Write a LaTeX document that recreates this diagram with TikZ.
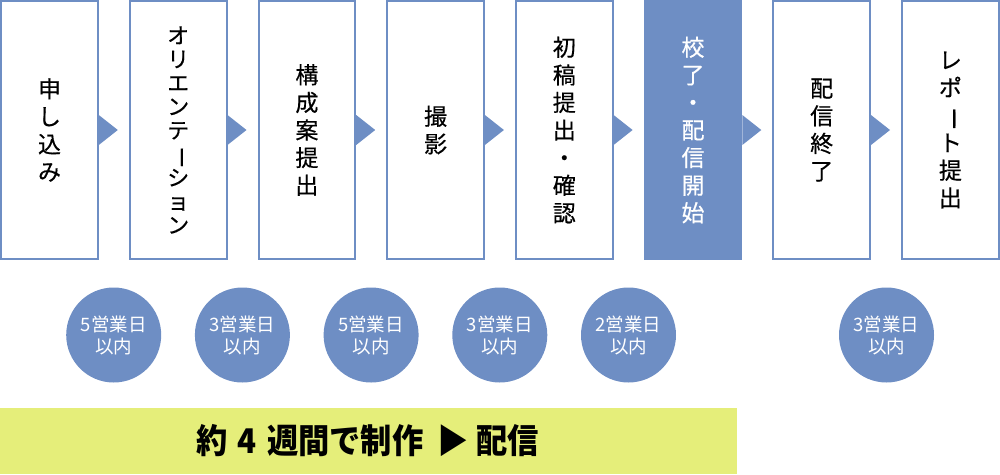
\documentclass[tikz,border=0pt]{standalone}
\usepackage{fontspec}
\usetikzlibrary{calc}
\newfontfamily\jp{Noto Sans CJK JP}
\newfontfamily\jpm[FakeBold=0.4]{Noto Sans CJK JP}
\newfontfamily\jpbar[FakeStretch=0.92]{Noto Sans CJK JP}
\definecolor{blu}{HTML}{6E8EC4}
\definecolor{limebar}{HTML}{E5EE7A}
\newcommand{\vbar}{\rotatebox[origin=c]{-90}{ー}}
\tikzset{
  stepbox/.style={draw=blu, line width=2pt, minimum width=96.6pt, minimum height=258pt,
    inner sep=0pt, align=center, font=\jpm\fontsize{23}{27.6}\selectfont},
  activebox/.style={stepbox, fill=blu, text=white},
  tri/.style={fill=blu},
  daycirc/.style={circle, fill=blu, minimum size=95pt, inner sep=0pt, text=white,
    align=center, font=\jp\fontsize{18.5}{22}\selectfont},
  bar/.style={fill=limebar, minimum width=738pt, minimum height=66pt, inner sep=0pt,
    font=\jpbar\bfseries\fontsize{34}{36}\selectfont}
}
\begin{document}
\begin{tikzpicture}[x=1pt,y=-1pt]
\useasboundingbox (0,0) rectangle (1000,474);
\node[stepbox] (b1) at (49.5,130) {申\\し\\込\\み};
\node[stepbox, font=\jpm\fontsize{22}{23.7}\selectfont] (b2) at (178.2,130) {オ\\リ\\エ\\ン\\テ\\\vbar\\シ\\ョ\\ン};
\node[stepbox] (b3) at (306.9,130) {構\\成\\案\\提\\出};
\node[stepbox] (b4) at (435.6,130) {撮\\影};
\node[stepbox] (b5) at (564.3,130) {初\\稿\\提\\出\\・\\確\\認};
\node[activebox] (b6) at (693,130) {校\\了\\・\\配\\信\\開\\始};
\node[stepbox] (b7) at (821.7,130) {配\\信\\終\\了};
\node[stepbox] (b8) at (950.4,130) {レ\\ポ\\\vbar\\ト\\提\\出};
\foreach \b in {b1,b2,b3,b4,b5,b6,b7}{
  \fill[tri] ($(\b.east)+(0,-15)$) -- ($(\b.east)+(19,0)$) -- ($(\b.east)+(0,15)$) -- cycle;
}
\node[daycirc] (c1) at (113.7,335) {5営業日\\以内};
\node[daycirc] (c2) at (242.4,335) {3営業日\\以内};
\node[daycirc] (c3) at (371.1,335) {5営業日\\以内};
\node[daycirc] (c4) at (499.8,335) {3営業日\\以内};
\node[daycirc] (c5) at (628.5,335) {2営業日\\以内};
\node[daycirc] (c6) at (886.5,335) {3営業日\\以内};
\node[bar] (bar) at (368,441) {約\hspace{10pt}4\hspace{10pt}週間で制作\hspace{14pt}▶\hspace{8pt}配信};
\end{tikzpicture}
\end{document}
